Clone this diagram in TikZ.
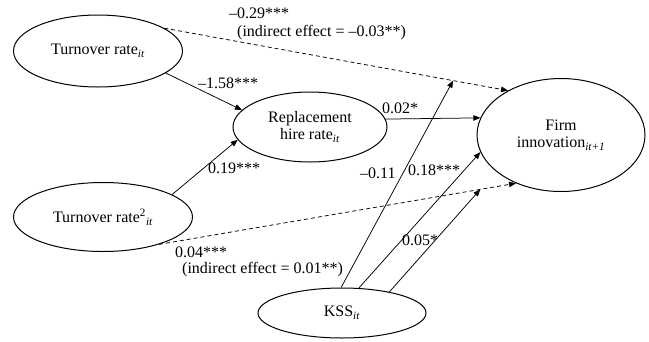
\documentclass[tikz,border=0pt]{standalone}
\usepackage{fontspec}
\setmainfont{Liberation Serif}
\usetikzlibrary{arrows.meta,shapes.geometric}
\newcommand{\ix}[1]{\textsubscript{\textit{#1}}}

\begin{document}
\begin{tikzpicture}[x=1pt, y=-1pt,
  var/.style={draw, line width=1pt, ellipse, inner sep=0pt, align=center,
              font=\fontsize{16}{17}\selectfont},
  coef/.style={anchor=west, inner sep=0pt, font=\fontsize{16}{17}\selectfont},
  eff/.style={-{Triangle[length=7pt, width=5.5pt]}, line width=0.75pt},
  ind/.style={eff, dash pattern=on 4pt off 3pt},
]
  \useasboundingbox (0,0) rectangle (649,341);
  \node[var, minimum width=169pt, minimum height=72pt] (tr)  at (98,51)   {Turnover rate\ix{it}};
  \node[var, minimum width=179pt, minimum height=69pt] (tr2) at (103,217) {Turnover rate\textsuperscript{2}\ix{it}};
  \node[var, minimum width=154pt, minimum height=70pt] (rh)  at (310,127) {Replacement\\hire rate\ix{it}};
  \node[var, minimum width=168pt, minimum height=113pt] (fi) at (561,135) {Firm\\innovation\ix{it+1}};
  \node[var, minimum width=168pt, minimum height=50pt] (ks)  at (342,313) {KSS\ix{it}};
  % direct and indirect paths
  \draw[eff] (tr.-18) -- (rh.166);
  \draw[eff] (tr2.18) -- (rh.190);
  \draw[eff] (rh.6) -- (fi.168);
  \draw[ind] (tr.19) -- (fi.140) coordinate[pos=0.84] (m1);
  \draw[ind] (tr2.-26) -- (fi.227) coordinate[pos=0.9] (m2);
  % KSS
  \draw[eff] (ks.92) -- (m1);
  \draw[eff] (ks.56) -- (fi.192);
  \draw[eff] (ks.24) -- (m2);
  % coefficients
  \node[coef] (c1) at (229,13)  {–0.29***};
  \node[coef] (c2) at (237,33)  {(indirect effect = –0.03**)};
  \node[coef] (c3) at (198,83)  {–1.58***};
  \node[coef] (c4) at (208,168) {0.19***};
  \node[coef] (c5) at (382,108) {0.02*};
  \node[coef] (c6) at (360,173) {–0.11};
  \node[coef] (c7) at (408,170) {0.18***};
  \node[coef] (c8) at (402,240) {0.05*};
  \node[coef] (c9) at (175,252) {0.04***};
  \node[coef] (c10) at (182,270) {(indirect effect = 0.01**)};
\end{tikzpicture}
\end{document}
